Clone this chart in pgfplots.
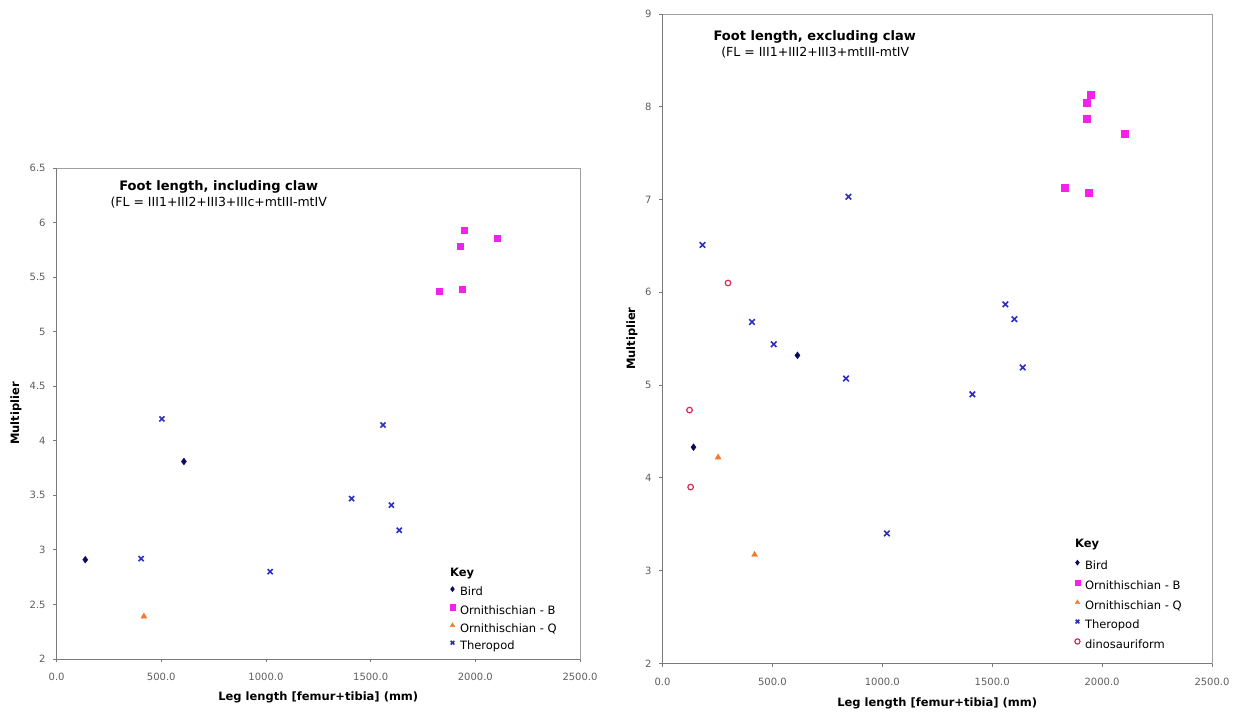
\documentclass[border=0pt]{standalone}
\usepackage{pgfplots}
\pgfplotsset{compat=1.18}
\usepackage{fontspec}
\setmainfont{DejaVu Sans}
\definecolor{bird}{HTML}{0A0A60}
\definecolor{ornb}{HTML}{F520EC}
\definecolor{ornq}{HTML}{F27A2C}
\definecolor{thero}{HTML}{2E2EC0}
\definecolor{dino}{HTML}{D03058}
\definecolor{boxgray}{HTML}{A0A0A0}
\definecolor{axgray}{HTML}{7A7A7A}
\definecolor{tickgray}{HTML}{5E5E5E}
\pgfplotsset{
  base/.style={
    scale only axis,
    xmin=0, xmax=2500,
    xtick={0,500,1000,1500,2000,2500},
    xticklabel={\pgfmathprintnumber[fixed,fixed zerofill,precision=1,1000 sep={}]{\tick}},
    /pgf/number format/assume math mode=true,
    tick label style={font=\fontsize{10}{12}\selectfont, text=tickgray},
    xticklabel style={yshift=-7.5pt},
    yticklabel style={xshift=-4pt},
    tick align=outside, tick pos=left,
    major tick length=3.5pt,
    tick style={axgray, line width=0.8pt},
    axis line style={boxgray, line width=0.9pt},
    label style={font=\fontsize{11.5}{13}\bfseries\selectfont},
    xlabel={Leg length [femur+tibia] (mm)},
    ylabel={Multiplier},
    legend cell align=left,
    legend image code/.code={\draw[##1, mark size=2.6pt] plot coordinates {(3pt,3.8pt)};},
    legend style={draw=none, fill=none, inner sep=0pt, column sep=5pt,
      font=\fontsize{11.5}{13}\selectfont,
      nodes={inner sep=0pt, text height=8.5pt, text depth=2.5pt},
      anchor=north west},
    after end axis/.code={\draw[axgray, line width=0.9pt] (rel axis cs:0,1) -- (rel axis cs:0,0) -- (rel axis cs:1,0);},
  },
  birdst/.style={only marks, mark=diamond*, mark size=3.4pt, color=bird},
  ornbst/.style={only marks, mark=square*, mark size=3.2pt, color=ornb},
  ornqst/.style={only marks, mark=triangle*, mark size=3.4pt, color=ornq},
  therost/.style={only marks, mark=x, mark size=3.6pt, color=thero, mark options={line width=1.6pt}},
  dinost/.style={only marks, mark=o, mark size=2.8pt, color=dino, mark options={line width=1.2pt}},
}
\begin{document}
\begin{tikzpicture}[x=1pt,y=1pt]
\useasboundingbox (0,0) rectangle (1243,715);
% ---------------- left chart ----------------
\begin{axis}[base,
  at={(56.6pt,56pt)}, anchor=south west,
  width=523.4pt, height=491pt,
  ymin=2, ymax=6.5,
  ytick={2,2.5,3,3.5,4,4.5,5,5.5,6,6.5},
  xlabel style={at={([yshift=-38pt]axis description cs:0.5,0)}, anchor=center},
  ylabel style={at={([xshift=-40.6pt]axis description cs:0,0.5)}, anchor=center},
  legend style={at={(axis description cs:0.751,0.148)}, row sep=6.2pt},
]
\addplot[birdst] coordinates {(137,2.91) (608,3.81)};
\addlegendentry{Bird}
\addplot[ornbst] coordinates {(1948,5.93) (1928,5.785) (2104,5.855) (1828,5.37) (1937,5.39)};
\addlegendentry{Ornithischian - B}
\addplot[ornqst] coordinates {(417,2.39)};
\addlegendentry{Ornithischian - Q}
\addplot[therost] coordinates {(503,4.2) (1559,4.145) (1409,3.47) (1599,3.41) (1637,3.18) (404,2.92) (1020,2.80)};
\addlegendentry{Theropod}
\end{axis}
\node[anchor=west, font=\fontsize{11.5}{13}\bfseries\selectfont, inner sep=0pt] at (450,141.7) {Key};
\node[font=\fontsize{13}{15}\bfseries\selectfont, inner sep=0pt] at (218.7,528.3) {Foot length, including claw};
\node[font=\fontsize{12.5}{15}\selectfont, inner sep=0pt] at (218.7,512.3) {(FL = III1+III2+III3+IIIc+mtIII-mtIV};
% ---------------- right chart ----------------
\begin{axis}[base,
  at={(662.5pt,51.7pt)}, anchor=south west,
  width=549.5pt, height=649.3pt,
  ymin=2, ymax=9,
  ytick={2,3,4,5,6,7,8,9},
  xlabel style={at={([yshift=-40pt]axis description cs:0.5,0)}, anchor=center},
  ylabel style={at={([xshift=-30.5pt]axis description cs:0,0.5)}, anchor=center},
  legend style={at={(axis description cs:0.750,0.1594)}, row sep=8pt},
]
\addplot[birdst] coordinates {(614,5.32) (141,4.33)};
\addlegendentry{Bird}
\addplot[ornbst, mark size=3.5pt] coordinates {(1950,8.13) (1931,8.04) (1931,7.87) (2102,7.71) (1831,7.13) (1939,7.07)};
\addlegendentry{Ornithischian - B}
\addplot[ornqst] coordinates {(253,4.22) (419,3.17)};
\addlegendentry{Ornithischian - Q}
\addplot[therost, mark size=3.9pt] coordinates {(846,7.03) (182,6.51) (407,5.68) (506,5.44) (1560,5.87) (1601,5.71) (835,5.07) (1410,4.90) (1639,5.19) (1021,3.40)};
\addlegendentry{Theropod}
\addplot[dinost] coordinates {(298,6.10) (123,4.73) (128,3.90)};
\addlegendentry{dinosauriform}
\end{axis}
\node[anchor=west, font=\fontsize{11.5}{13}\bfseries\selectfont, inner sep=0pt] at (1075,170) {Key};
\node[font=\fontsize{13}{15}\bfseries\selectfont, inner sep=0pt] at (814.7,678.3) {Foot length, excluding claw};
\node[font=\fontsize{12.5}{15}\selectfont, inner sep=0pt] at (815.3,662.7) {(FL = III1+III2+III3+mtIII-mtIV};
\end{tikzpicture}
\end{document}
